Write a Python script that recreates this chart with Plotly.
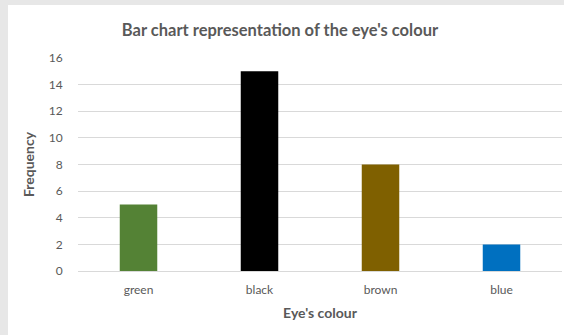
import plotly.graph_objects as go

categories = ["green", "black", "brown", "blue"]
frequency = [5, 15, 8, 2]
bar_colors = ["#548235", "#000000", "#7F6000", "#0070C0"]
y_ticks = [0, 2, 4, 6, 8, 10, 12, 14, 16]

W, H = 564, 335
L, R, T, B = 78, 2, 58, 64
pw, ph = W - L - R, H - T - B

def px_x(p):
    return (p - L) / pw

def px_y(p):
    return (H - B - p) / ph

fig = go.Figure(go.Bar(x=categories, y=frequency, marker=dict(color=bar_colors, line=dict(width=0)), width=0.31))

FONT = "Lato"
GREY = "#595959"

fig.update_layout(
    width=W, height=H,
    margin=dict(l=L, r=R, t=T, b=B),
    paper_bgcolor="#e7e7e7",
    plot_bgcolor="rgba(0,0,0,0)",
    showlegend=False,
    font=dict(family=FONT, color=GREY, size=12),
    title=dict(text="<b>Bar chart representation of the eye's colour</b>", x=280 / W, xref="container",
               xanchor="center",
               y=1 - 30 / H, yanchor="middle", font=dict(family=FONT, size=16.5, color=GREY)),
    shapes=[dict(type="rect", xref="paper", yref="paper", x0=px_x(8), x1=px_x(W + 5), y0=px_y(H + 5), y1=px_y(5),
                 fillcolor="white", line=dict(width=0), layer="below")],
    xaxis=dict(showgrid=False, showline=True, linecolor="#d9d9d9", linewidth=1,
               ticks="outside", ticklen=8, tickcolor="rgba(0,0,0,0)",
               tickfont=dict(size=12, color=GREY),
               title=dict(text="<b>Eye's colour</b>", font=dict(size=14, color=GREY), standoff=11)),
    yaxis=dict(range=[0, 16], tickvals=y_ticks, showgrid=True, gridcolor="#d9d9d9", gridwidth=1,
               zeroline=False, showline=False,
               ticks="outside", ticklen=12, tickcolor="rgba(0,0,0,0)",
               tickfont=dict(size=12, color=GREY),
               title=dict(text="<b>Frequency</b>", font=dict(size=14, color=GREY), standoff=10)),
)

fig.write_html("out.html")
